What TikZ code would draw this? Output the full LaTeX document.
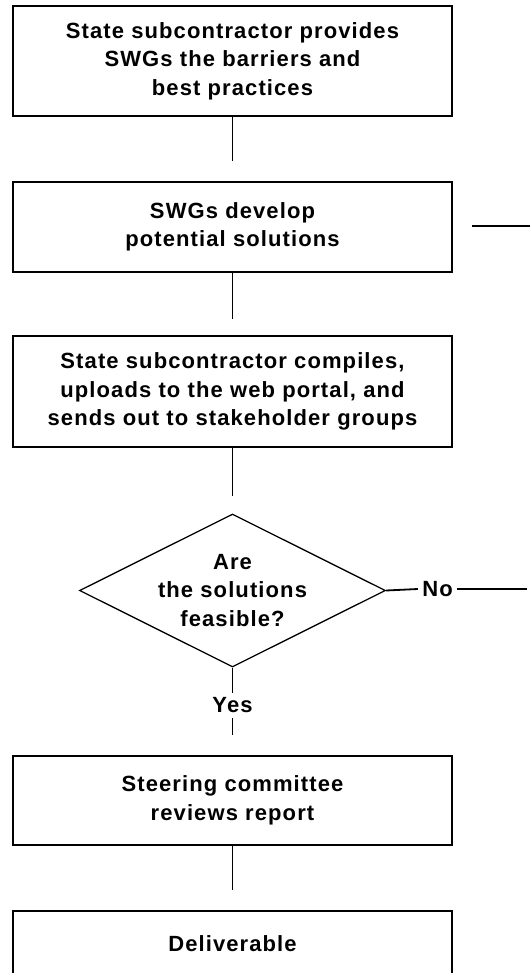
\documentclass[tikz,border=0pt]{standalone}
\usepackage{fontspec}
\setmainfont{Liberation Sans}[LetterSpace=5]
\usetikzlibrary{shapes.geometric}
\newcommand{\flowfont}{\bfseries\fontsize{22}{28.5}\selectfont}

\begin{document}
\begin{tikzpicture}[x=1pt, y=-1pt,
    stepbox/.style={rectangle, draw, line width=2pt, minimum width=439pt, inner sep=0pt, align=center, font=\flowfont},
    decision/.style={diamond, draw, line width=1.3pt, aspect=2, minimum width=306pt, minimum height=153pt, inner sep=0pt, align=center, font=\flowfont},
    answer/.style={inner sep=0pt, minimum height=25pt, minimum width=39pt, font=\flowfont},
    link/.style={line width=1.8pt}]

\useasboundingbox (0,0) rectangle (530,973);
\clip (0,0) rectangle (530,973);

% Steps
\node[stepbox, minimum height=110pt] (provide) at (232.5,61) {State subcontractor provides\\SWGs the barriers and\\best practices};
\node[stepbox, minimum height=90pt] (develop) at (232.5,227) {SWGs develop\\potential solutions};
\node[stepbox, minimum height=111pt] (compile) at (232.5,391.5) {State subcontractor compiles,\\uploads to the web portal, and\\sends out to stakeholder groups};
\node[decision] (feasible) at (232.5,590.5) {Are\\the solutions\\feasible?};
\node[stepbox, minimum height=89pt] (review) at (232.5,800.5) {Steering committee\\reviews report};
\node[stepbox, minimum height=66pt] (deliver) at (232.5,944) {Deliverable};

% Answers
\node[answer] (yes) at (232.5,705.5) {Yes};
\node[answer] (no) at (437.5,589) {No};

% Free ends
\coordinate (provide end) at (232.5,161);
\coordinate (develop end) at (232.5,319);
\coordinate (compile end) at (232.5,496);
\coordinate (yes end) at (232.5,735);
\coordinate (review end) at (232.5,890);
\coordinate (side start) at (472,226);
\coordinate (side end) at (530,226);
\coordinate (no end) at (527,589);

% Connections
\draw[link] (provide) -- (provide end);
\draw[link] (develop) -- (develop end);
\draw[link] (compile) -- (compile end);
\draw[link] (feasible.south) -- (yes.north);
\draw[link] (yes.south) -- (yes end);
\draw[link] (review) -- (review end);
\draw[link] (side start) -- (side end);
\draw[link] (feasible.east) -- (no.west);
\draw[link] (no.east) -- (no end);
\end{tikzpicture}
\end{document}
